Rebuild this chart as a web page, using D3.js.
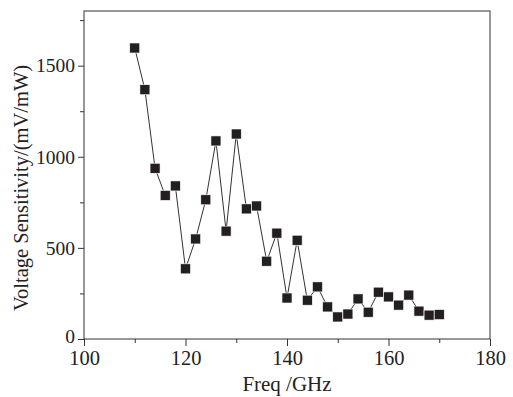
<!DOCTYPE html>
<html><head><meta charset="utf-8">
<script src="https://cdn.jsdelivr.net/npm/d3@7"></script>
<style>body{margin:0;background:#fff}svg{display:block}</style>
</head><body>
<script>
const freq = [110,112,114,116,118,120,122,124,126,128,130,132,134,136,138,140,142,144,146,148,150,152,154,156,158,160,162,164,166,168,170];
const sensitivity = [1597,1368,937,788,840,385,549,764,1087,592,1125,714,730,427,581,225,542,213,286,176,121,137,220,147,257,231,186,241,153,131,134];
const xTicks = [100,120,140,160,180];
const yTicks = [0,500,1000,1500];

const W = 513, H = 397;
const m = {l:84, r:23, t:11, b:58};
const svg = d3.select("body").append("svg").attr("width",W).attr("height",H);
const x = d3.scaleLinear().domain([100,180]).range([m.l, W-m.r]);
const y = d3.scaleLinear().domain([0,1800]).range([H-m.b, m.t]);
const font = "'Liberation Serif', 'Times New Roman', serif";
const col = "#231f20";

svg.append("rect").attr("x",m.l).attr("y",m.t).attr("width",W-m.r-m.l).attr("height",H-m.b-m.t)
  .attr("fill","none").attr("stroke","#333").attr("stroke-width",1);

const gx = svg.append("g").attr("transform",`translate(0,${H-m.b})`);
gx.call(d3.axisBottom(x).tickValues(d3.range(110,180,20)).tickSize(4).tickFormat(""));
const gx2 = svg.append("g").attr("transform",`translate(0,${H-m.b})`);
gx2.call(d3.axisBottom(x).tickValues(xTicks).tickSize(7).tickPadding(4).tickFormat(d3.format("d")));
const gy = svg.append("g").attr("transform",`translate(${m.l},0)`);
gy.call(d3.axisLeft(y).tickValues([250,750,1250,1750]).tickSize(4).tickFormat(""));
const gy2 = svg.append("g").attr("transform",`translate(${m.l},0)`);
gy2.call(d3.axisLeft(y).tickValues(yTicks).tickSize(6).tickPadding(3).tickFormat(d3.format("d")));
svg.selectAll(".domain").remove();
svg.selectAll(".tick line").attr("stroke","#333");
gx2.selectAll(".tick text").attr("font-family",font).attr("font-size",20.5).attr("fill","#222");
gy2.selectAll(".tick text").attr("font-family",font).attr("font-size",19.5).attr("fill","#222");
gy2.selectAll(".tick text").filter(d=>d===0).attr("dy","0.2em");

const pts = freq.map((f,i)=>[f,sensitivity[i]]);
svg.append("path").datum(pts)
  .attr("d", d3.line().x(d=>x(d[0])).y(d=>y(d[1])))
  .attr("fill","none").attr("stroke","#333").attr("stroke-width",1);

const s = 10;
svg.selectAll("rect.pt").data(pts).join("rect").attr("class","pt")
  .attr("x",d=>x(d[0])-s/2).attr("y",d=>y(d[1])-s/2).attr("width",s).attr("height",s)
  .attr("fill",col).attr("stroke","#fff").attr("stroke-width",0.6);

svg.append("text").attr("x",(m.l+W-m.r)/2).attr("y",391).attr("text-anchor","middle")
  .attr("font-family",font).attr("font-size",21).attr("fill","#222").text("Freq /GHz");
svg.append("text").attr("transform",`translate(28,188) rotate(-90)`).attr("text-anchor","middle")
  .attr("font-family",font).attr("font-size",20.5).attr("fill","#222").text("Voltage Sensitivity/(mV/mW)");
</script>
</body></html>
